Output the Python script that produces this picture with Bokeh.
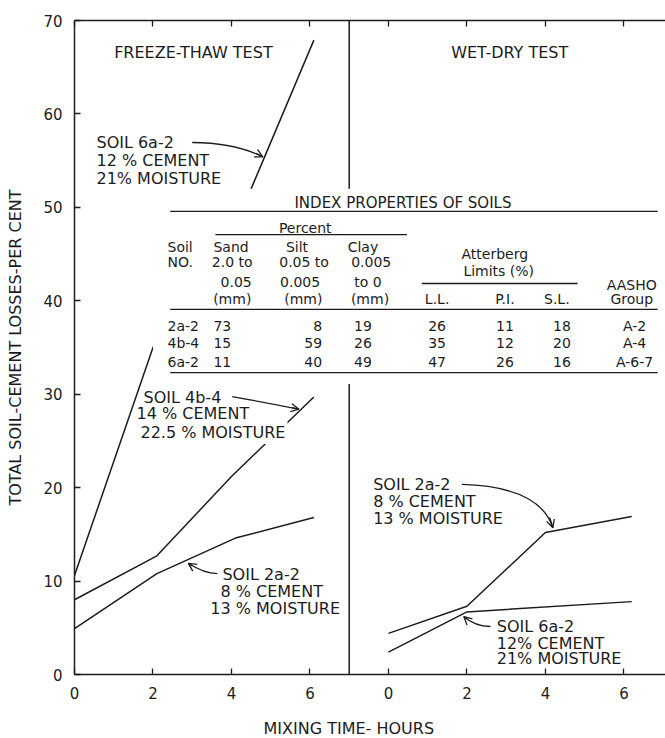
import math
from bokeh.plotting import figure
from bokeh.models import (FixedTicker, LinearAxis, Title, Arrow, OpenHead, Range1d,
                          CustomJSTickFormatter)
from bokeh.core.properties import value
from bokeh.embed import file_html
from bokeh.resources import INLINE

# ---------------- data ----------------
hour_ticks = [0, 2, 4, 6]
loss_ticks = [0, 10, 20, 30, 40, 50, 60, 70]

# Freeze-thaw test (left panel)
ft_6a2_x = [0, 2.0, 4.0, 6.1]
ft_6a2_y = [10.6, 35.0, 47.0, 67.9]
ft_4b4_x = [0, 2.1, 4.0, 6.1]
ft_4b4_y = [8.0, 12.7, 21.2, 29.7]
ft_2a2_x = [0, 2.1, 4.1, 6.1]
ft_2a2_y = [4.9, 10.8, 14.6, 16.8]

# Wet-dry test (right panel)
wd_2a2_x = [0, 2.0, 4.0, 6.2]
wd_2a2_y = [4.4, 7.3, 15.2, 16.9]
wd_6a2_x = [0, 2.0, 6.2]
wd_6a2_y = [2.4, 6.7, 7.8]

# Index properties table
soil_no = ["2a-2", "4b-4", "6a-2"]
sand = ["73", "15", "11"]
silt = ["8", "59", "40"]
clay = ["19", "26", "49"]
liquid_limit = ["26", "35", "47"]
plastic_index = ["11", "12", "26"]
shrinkage_limit = ["18", "20", "16"]
aasho_group = ["A-2", "A-4", "A-6-7"]

# ---------------- layout / style ----------------
FONT = "DejaVu Sans"
INK = "#1c1c1c"
WD = 8.0          # horizontal offset of the wet-dry panel
DIVIDER = 7.0

p = figure(width=665, height=738, x_range=Range1d(0, 15.06), y_range=Range1d(0, 70),
           output_backend="svg", toolbar_location=None,
           x_axis_type=None, y_axis_type=None,
           min_border_left=74, min_border_right=0, min_border_top=20, min_border_bottom=64)
p.outline_line_color = None
p.background_fill_color = "white"
p.border_fill_color = "white"

xt = FixedTicker(ticks=hour_ticks + [t + WD for t in hour_ticks], minor_ticks=[])
yt = FixedTicker(ticks=loss_ticks, minor_ticks=[])
fmt = CustomJSTickFormatter(code="return String(tick > 7 ? Math.round(tick - 8) : tick);")

def style_axis(ax):
    ax.axis_line_color = INK
    ax.axis_line_width = 1.5
    ax.major_tick_line_color = INK
    ax.major_tick_line_width = 1.3
    ax.major_tick_in = 6
    ax.major_tick_out = 0
    ax.minor_tick_in = 0
    ax.minor_tick_out = 0
    ax.major_label_text_font = FONT
    ax.major_label_text_font_size = "15px"
    ax.major_label_text_color = INK

left = LinearAxis(ticker=yt)
style_axis(left)
left.major_label_standoff = 12
left.axis_label = "TOTAL SOIL-CEMENT LOSSES-PER CENT"
left.axis_label_text_font = FONT
left.axis_label_text_font_size = "16px"
left.axis_label_text_font_style = "normal"
left.axis_label_text_color = INK
left.axis_label_standoff = 15
p.add_layout(left, "left")

bottom = LinearAxis(ticker=xt, formatter=fmt)
style_axis(bottom)
bottom.major_label_standoff = 12
p.add_layout(bottom, "below")

# blank spacer between tick labels and the x title (white tick on white, no labels)
spacer = LinearAxis(ticker=FixedTicker(ticks=[1], minor_ticks=[]), axis_line_color=None,
                    major_tick_line_color="white", minor_tick_line_color=None,
                    major_tick_in=0, major_tick_out=14, minor_tick_in=0, minor_tick_out=0,
                    major_label_standoff=0, major_label_text_color=None,
                    major_label_text_font_size="1px")
p.add_layout(spacer, "below")

top = LinearAxis(ticker=xt, formatter=fmt)
style_axis(top)
top.major_label_text_font_size = "1px"
top.major_label_text_color = None
top.major_label_standoff = 0
p.add_layout(top, "above")

p.add_layout(Title(text="MIXING TIME- HOURS", align="left", offset=189, standoff=2,
                   text_font=FONT, text_font_size="16px", text_font_style="normal",
                   text_color=INK), "below")

# divider between the two tests
p.segment(x0=[DIVIDER], y0=[0], x1=[DIVIDER], y1=[70], line_color=INK, line_width=1.5)

LW = 1.5
p.line(ft_6a2_x, ft_6a2_y, line_color=INK, line_width=LW)
p.line(ft_4b4_x, ft_4b4_y, line_color=INK, line_width=LW)
p.line(ft_2a2_x, ft_2a2_y, line_color=INK, line_width=LW)
p.line([x + WD for x in wd_2a2_x], wd_2a2_y, line_color=INK, line_width=LW)
p.line([x + WD for x in wd_6a2_x], wd_6a2_y, line_color=INK, line_width=LW)

# white panel behind the table
p.quad(left=[2.0], right=[15.5], bottom=[31.1], top=[52.0], fill_color="white", line_color=None)

def txt(xs, ys, texts, size="14px", align="center", **kw):
    p.text(x=xs, y=ys, text=texts, text_font=value(FONT), text_font_size=size,
           text_align=align, text_baseline="middle", text_color=INK, **kw)

# panel titles
txt([3.03], [66.6], ["FREEZE-THAW TEST"], size="16px")
txt([11.09], [66.6], ["WET-DRY TEST"], size="16px")

# ---- table ----
TX0, TX1 = 2.44, 14.86
p.segment(x0=[TX0, 3.59, 8.85, TX0, TX0], y0=[49.56, 47.09, 41.85, 39.07, 32.32],
          x1=[TX1, 8.47, 12.82, TX1, TX1], y1=[49.56, 47.09, 41.85, 39.07, 32.32],
          line_color=INK, line_width=1.3)
txt([8.37], [50.5], ["INDEX PROPERTIES OF SOILS"], size="15px")
txt([5.88], [47.84], ["Percent"])
txt([2.37, 2.37], [45.81, 44.1], ["Soil", "NO."], align="left")
txt([3.99, 5.67, 7.35], [45.81] * 3, ["Sand", "Silt", "Clay"])
txt([4.02, 5.85, 7.56], [44.1] * 3, ["2.0 to", "0.05 to", "0.005"])
txt([4.12, 5.75, 7.48], [42.06] * 3, ["0.05", "0.005", "to 0"])
txt([4.02, 5.83, 7.53, 9.24, 10.97, 12.29, 14.2], [40.24] * 7,
    ["(mm)", "(mm)", "(mm)", "L.L.", "P.I.", "S.L.", "Group"])
txt([10.71, 10.81], [45.06, 43.24], ["Atterberg", "Limits (%)"])
txt([14.2], [41.74], ["AASHO"])

row_y = [37.35, 35.43, 33.5]
txt([2.37] * 3, row_y, soil_no, align="left")
txt([3.54] * 3, row_y, sand, align="left")
txt([6.31] * 3, row_y, silt, align="right")
txt([7.35] * 3, row_y, clay)
txt([9.24] * 3, row_y, liquid_limit)
txt([10.97] * 3, row_y, plastic_index)
txt([12.42] * 3, row_y, shrinkage_limit)
txt([14.27] * 3, row_y, aasho_group)

# ---- curve labels ----
txt([0.56] * 3, [56.94, 55.0, 53.1], ["SOIL 6a-2", "12 % CEMENT", "21% MOISTURE"],
    size="16px", align="left")
txt([1.76, 1.58], [29.65, 27.9], ["SOIL 4b-4", "14 % CEMENT"], size="16px", align="left")
txt([1.63], [25.9], ["22.5 % MOISTURE"], size="16px", align="left",
    background_fill_color="white", padding=2)
txt([3.77, 3.72, 3.46], [10.7, 8.88, 7.06], ["SOIL 2a-2", "8 % CEMENT", "13 % MOISTURE"],
    size="16px", align="left")
txt([7.61] * 3, [20.3, 18.5, 16.7], ["SOIL 2a-2", "8 % CEMENT", "13 % MOISTURE"],
    size="16px", align="left")
txt([10.76] * 3, [5.14, 3.32, 1.71], ["SOIL 6a-2", "12% CEMENT", "21% MOISTURE"],
    size="16px", align="left")

# ---- leader arrows (quadratic curve + open head) ----
def leader(tail, ctrl, tip):
    p.quadratic(x0=[tail[0]], y0=[tail[1]], x1=[tip[0]], y1=[tip[1]],
                cx=[ctrl[0]], cy=[ctrl[1]], line_color=INK, line_width=1.3)
    sx = tip[0] + 0.25 * (ctrl[0] - tip[0])
    sy = tip[1] + 0.25 * (ctrl[1] - tip[1])
    p.add_layout(Arrow(end=OpenHead(size=8, line_color=INK, line_width=1.3),
                       x_start=sx, y_start=sy, x_end=tip[0], y_end=tip[1],
                       line_color=INK, line_width=1.3))

leader((3.0, 56.94), (4.1, 56.9), (4.8, 55.4))
leader((4.02, 29.75), (4.99, 29.0), (5.72, 28.4))
leader((3.64, 10.8), (3.3, 10.8), (2.9, 11.9))
leader((9.87, 20.34), (11.86, 20.1), (12.19, 15.7))
leader((10.6, 5.14), (10.2, 5.14), (9.92, 6.2))

open("out.html", "w").write(file_html(p, INLINE))
